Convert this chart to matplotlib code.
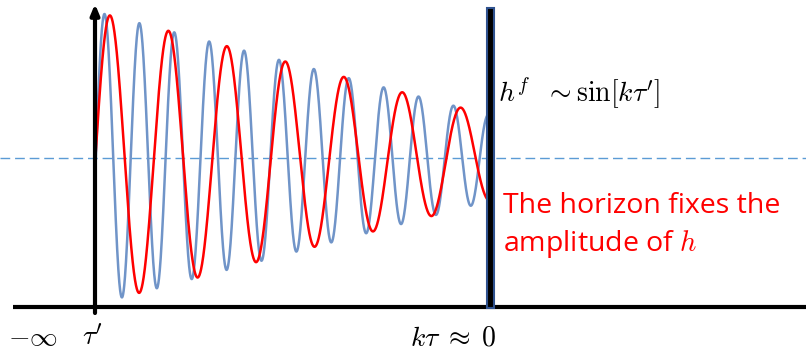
import matplotlib.pyplot as plt
import numpy as np

# schematic: a fast mode and the slow mode h, both damped linearly,
# frozen when they reach the horizon
series_names = ['fast mode', 'h']
series_colors = ['#7094C8', '#FF0000']
series_periods = [34.9, 58.5]          # oscillation period (px units)
series_zero = [95.8, 95.4]             # where each starts at zero, going up
envelope = [146.5, 43.5]               # amplitude at tau' and at the horizon

x_start = 95      # tau'
x_horizon = 487   # k tau ~ 0
y_mid = 158
y_axis = 307

plt.rcParams['mathtext.fontset'] = 'cm'

fig = plt.figure(figsize=(8.06, 3.58), dpi=100)
ax = fig.add_axes([0, 0, 1, 1])
ax.set_xlim(0, 806)
ax.set_ylim(358, 0)
ax.axis('off')

# dashed zero line
ax.axhline(y_mid, color='#5B9BD5', lw=1.0, ls=(0, (7, 3.5)), zorder=1)

x = np.linspace(x_start, x_horizon, 2000)
amp = np.interp(x, [x_start, x_horizon], envelope)
for name, col, per, x0 in zip(series_names, series_colors, series_periods, series_zero):
    y = y_mid - amp * np.sin(2 * np.pi * (x - x0) / per)
    y[0] = y_mid
    ax.plot(x, y, color=col, lw=1.8, label=name, zorder=3)

# axes
ax.plot([13, 806], [y_axis, y_axis], color='black', lw=3, solid_capstyle='butt', zorder=4)
ax.annotate('', xy=(x_start, 4), xytext=(x_start, 313),
            arrowprops=dict(arrowstyle='-|>,head_length=0.6,head_width=0.25',
                            color='black', lw=3, shrinkA=0, shrinkB=0), zorder=4)

# horizon bar
ax.add_patch(plt.Rectangle((x_horizon, 8), 7, y_axis + 1 - 8, facecolor='black',
                           edgecolor='#2F528F', lw=1.5, zorder=5))

ax.text(498, 102, r"$h^f\ \ \sim \mathrm{sin}[k\tau^{\prime}]$", fontsize=20,
        ha='left', va='baseline', color='black')
ax.text(503, 213, 'The horizon fixes the', fontsize=20.5, family='Open Sans',
        color='#FF0000', ha='left', va='baseline')
ax.text(503, 251, r'amplitude of $h$', fontsize=20.5, family='Open Sans',
        color='#FF0000', ha='left', va='baseline')

ax.text(8, 345, r'$-\infty$', fontsize=20, ha='left', va='baseline')
ax.text(82, 345, r"$\tau^{\prime}$", fontsize=20, ha='left', va='baseline')
ax.text(410, 345, r'$k\tau\;\approx\;0$', fontsize=20, ha='left', va='baseline')

fig.savefig('out.png', dpi=100)
